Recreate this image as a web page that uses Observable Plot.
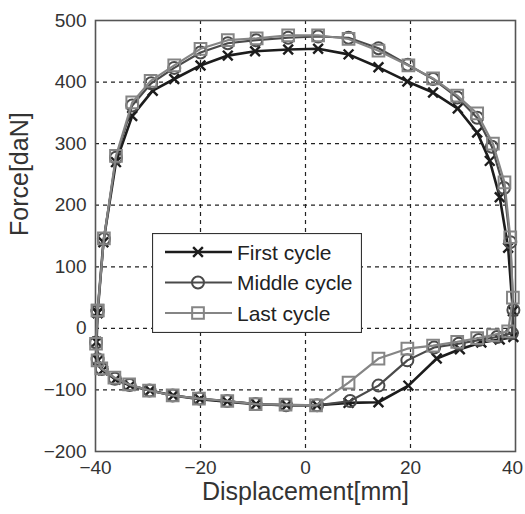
<!DOCTYPE html>
<html><head><meta charset="utf-8">
<script src="https://cdn.jsdelivr.net/npm/d3@7"></script>
<script src="https://cdn.jsdelivr.net/npm/@observablehq/plot@0.6"></script>
<style>
body{margin:0;background:#fff;font-family:"Liberation Sans",Arial,sans-serif;}
#wrap{position:relative;width:525px;height:514px;}
#legend{position:absolute;left:152px;top:233px;}
</style></head><body><div id="wrap"></div>
<script>
const seriesNames = ["First cycle", "Middle cycle", "Last cycle"];
const xTicks = [-40, -20, 0, 20, 40];
const yTicks = [-200, -100, 0, 100, 200, 300, 400, 500];

const firstDisp = [-39.6,-38.5,-36.1,-33.0,-29.1,-25.0,-20.0,-14.8,-9.6,-3.3,2.4,8.2,13.9,19.4,24.3,29.0,32.7,35.1,37.0,38.6,39.5,
  39.6,37.0,33.5,29.4,25.0,19.6,13.9,8.2,2.2,-3.6,-9.4,-14.9,-20.1,-25.2,-29.6,-33.4,-36.2,-38.6,-39.5,-39.8,-39.6];
const firstForce = [25,140,270,345,386,405,427,443,450,453,454,445,424,401,383,357,318,272,213,131,28,
  -14,-18,-23,-34,-49,-93,-120,-121,-125,-125,-123,-119,-115,-109,-101,-93,-83,-68,-52,-22,25];

const middleDisp = [-39.6,-38.4,-36.1,-33.0,-29.4,-25.0,-20.0,-14.8,-9.4,-3.3,2.4,8.2,13.9,19.5,24.3,28.9,32.7,35.5,37.8,39.0,39.6,
  39.3,36.5,33.0,29.2,24.5,19.4,13.9,8.5,2.2,-3.7,-9.5,-14.9,-20.2,-25.3,-29.7,-33.5,-36.3,-38.8,-39.6,-39.9,-39.6];
const middleForce = [28,145,277,362,398,423,448,463,468,472,474,472,455,428,405,375,342,295,228,140,30,
  -8,-14,-19,-25,-31,-52,-93,-118,-125,-125,-123,-118,-114,-109,-101,-92,-82,-66,-50,-23,28];

const lastDisp = [-39.6,-38.4,-36.1,-33.0,-29.5,-25.0,-20.0,-14.8,-9.3,-3.3,2.4,8.2,13.9,19.6,24.3,28.9,32.7,35.7,37.9,39.0,39.5,
  38.6,35.7,32.7,28.9,24.3,19.4,13.9,8.2,2.0,-3.8,-9.5,-14.9,-20.3,-25.3,-29.8,-33.6,-36.4,-38.9,-39.6,-39.9,-39.6];
const lastForce = [29,146,280,367,402,427,454,468,471,476,476,470,451,427,406,378,349,300,237,148,50,
  -5,-11,-16,-22,-28,-33,-49,-88,-125,-124,-123,-118,-114,-109,-101,-91,-80,-65,-52,-25,29];

const styles = [
  {stroke:"#1c1c1c", width:2.6, symbol:"times", r:4.5, mw:2.4},
  {stroke:"#4a4a4a", width:2.2, symbol:"circle", r:6, mw:2},
  {stroke:"#858585", width:2.2, symbol:"square", r:6.6, mw:2}
];
const raw = [[firstDisp, firstForce], [middleDisp, middleForce], [lastDisp, lastForce]];
const seriesRows = raw.map(([xs, ys], i) => xs.map((x, j) => ({x, y: ys[j], s: seriesNames[i]})));

const font = "Liberation Sans, Arial, sans-serif";
const marks = [
  Plot.gridX(xTicks.slice(1, -1), {stroke:"#222", strokeOpacity:1, strokeWidth:1.2, strokeDasharray:"4,4"}),
  Plot.gridY(yTicks.slice(1, -1), {stroke:"#222", strokeOpacity:1, strokeWidth:1.2, strokeDasharray:"4,4"}),
  Plot.frame({stroke:"#555", strokeWidth:1.6}),
  Plot.axisX(xTicks.slice(0, -1), {tickSize:0, tickPadding:9, fontSize:19, fill:"#333", label:null}),
  Plot.axisX(xTicks.slice(-1), {tickSize:0, tickPadding:9, fontSize:19, fill:"#333", label:null, dx:-3}),
  Plot.axisY(yTicks, {tickSize:0, tickPadding:9, fontSize:19, fill:"#333", label:null}),
  Plot.text(["Displacement[mm]"], {frameAnchor:"bottom", dy:48, fontSize:25, fill:"#333"}),
  Plot.text(["Force[daN]"], {frameAnchor:"left", dx:-76, rotate:-90, fontSize:25, fill:"#333"})
];
seriesRows.forEach((rows, i) => {
  const st = styles[i];
  marks.push(Plot.line(rows, {x:"x", y:"y", stroke:st.stroke, strokeWidth:st.width, curve:"linear"}));
  marks.push(Plot.dot(rows, {x:"x", y:"y", symbol:st.symbol, r:st.r, stroke:st.stroke, strokeWidth:st.mw, fill:"none"}));
});

const chart = Plot.plot({
  width:525, height:514,
  marginLeft:95, marginRight:10, marginTop:20, marginBottom:63,
  x:{domain:[-40, 40]},
  y:{domain:[-200, 500]},
  style:{fontFamily:font, background:"#fff", color:"#333"},
  marks
});
const wrap = document.getElementById("wrap");
wrap.appendChild(chart);

// Legend (HTML overlay)
const lg = d3.select(wrap).append("svg").attr("id", "legend").attr("width", 210).attr("height", 100);
lg.append("rect").attr("x", 0.5).attr("y", 0.5).attr("width", 209).attr("height", 99)
  .attr("fill", "#fff").attr("stroke", "#333").attr("stroke-width", 1.2);
const symbols = {times: d3.symbolTimes, circle: d3.symbolCircle, square: d3.symbolSquare};
seriesNames.forEach((name, i) => {
  const st = styles[i];
  const cy = 19 + i * 30.5;
  lg.append("line").attr("x1", 13).attr("x2", 80).attr("y1", cy).attr("y2", cy)
    .attr("stroke", st.stroke).attr("stroke-width", st.width);
  lg.append("path").attr("d", d3.symbol(symbols[st.symbol], Math.PI * st.r * st.r)())
    .attr("transform", `translate(46,${cy})`).attr("fill", "none")
    .attr("stroke", st.stroke).attr("stroke-width", st.mw);
  lg.append("text").attr("x", 85).attr("y", cy).attr("dy", "0.36em")
    .attr("font-family", font).attr("font-size", 21).attr("fill", "#222").text(name);
});
</script></body></html>
